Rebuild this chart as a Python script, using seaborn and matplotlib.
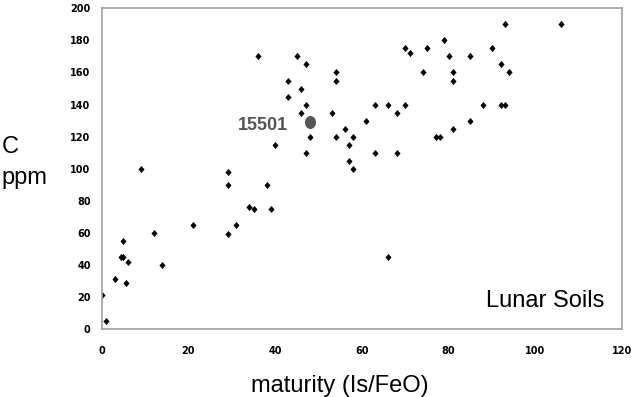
import matplotlib
matplotlib.use("Agg")
import matplotlib.pyplot as plt
import seaborn as sns
import pandas as pd
from matplotlib.path import Path
from matplotlib.transforms import Affine2D

# Data
maturity = [0, 1, 3, 4.5, 5, 5, 6, 5.5, 9, 12, 14, 21, 29, 29, 29, 31, 34, 35,
            36, 38, 39, 40, 43, 43, 45, 46, 46, 47, 47, 47, 48, 53, 54, 54, 54,
            56, 57, 57, 58, 58, 61, 63, 63, 66, 66, 68, 68, 70, 71, 70, 74, 75,
            77, 78, 79, 80, 81, 81, 81, 85, 85, 88, 90, 92, 92, 93, 93, 94, 106]
carbon_ppm = [21, 5, 31, 45, 45, 55, 42, 29, 100, 60, 40, 65, 98, 90, 59, 65, 76, 75,
              170, 90, 75, 115, 155, 145, 170, 150, 135, 165, 140, 110, 120, 135, 160, 155, 120,
              125, 115, 105, 120, 100, 130, 140, 110, 140, 45, 135, 110, 175, 172, 140, 160, 175,
              120, 120, 180, 170, 160, 155, 125, 170, 130, 140, 175, 165, 140, 140, 190, 160, 190]

highlight_name = ["15501"]
highlight_x = [48]
highlight_y = [129]

x_ticks = [0, 20, 40, 60, 80, 100, 120]
y_ticks = [0, 20, 40, 60, 80, 100, 120, 140, 160, 180, 200]

df = pd.DataFrame({"maturity": maturity, "C": carbon_ppm})
hl = pd.DataFrame({"maturity": highlight_x, "C": highlight_y, "name": highlight_name})

sns.set_theme(style="white")
plt.rcParams["font.family"] = ["Liberation Sans", "DejaVu Sans"]

fig = plt.figure(figsize=(6.4, 3.97), dpi=100)
ax = fig.add_axes([0.159, 0.171, 0.813, 0.808])

diamond = Path.unit_rectangle().transformed(
    Affine2D().translate(-0.5, -0.5).rotate_deg(45).scale(0.85, 1.0))
sns.scatterplot(data=df, x="maturity", y="C", ax=ax, marker=diamond, s=22,
                color="black", linewidth=0.3, edgecolor="black", legend=False)

ellipse = Path.unit_circle().transformed(Affine2D().scale(0.85, 1.0))
sns.scatterplot(data=hl, x="maturity", y="C", ax=ax, marker=ellipse, s=88,
                color="#555555", linewidth=0, legend=False)
ax.text(43, 124, highlight_name[0], ha="right", va="baseline", fontsize=13,
        fontweight="bold", color="#555555", family=["Liberation Sans", "DejaVu Sans"])

ax.set_xlim(0, 120)
ax.set_ylim(0, 200)
ax.set_xticks(x_ticks)
ax.set_yticks(y_ticks)
ax.set_xticklabels([str(t) for t in x_ticks], fontsize=7, fontweight="bold",
                   family="DejaVu Sans")
ax.set_yticklabels([str(t) for t in y_ticks], fontsize=7, fontweight="bold",
                   family="DejaVu Sans")
ax.tick_params(axis="x", length=0, pad=12.5, colors="black")
ax.tick_params(axis="y", length=0, pad=8, colors="black")

for sp in ax.spines.values():
    sp.set_visible(True)
    sp.set_color("#a0a0a0")
    sp.set_linewidth(1.2)

ax.set_xlabel("")
ax.set_ylabel("")
fig.text(0.531, 0.0134, "maturity (Is/FeO)", ha="center", va="baseline",
         fontsize=17, color="black")
fig.text(0.003, 1 - 153 / 397, "C", ha="left", va="baseline", fontsize=17, color="black")
fig.text(0.002, 1 - 184.2 / 397, "ppm", ha="left", va="baseline", fontsize=17, color="black")

ax.text(0.9654, 0.0677, "Lunar Soils", transform=ax.transAxes, ha="right",
        va="baseline", fontsize=17, color="black")

fig.savefig("out.png", dpi=100)
